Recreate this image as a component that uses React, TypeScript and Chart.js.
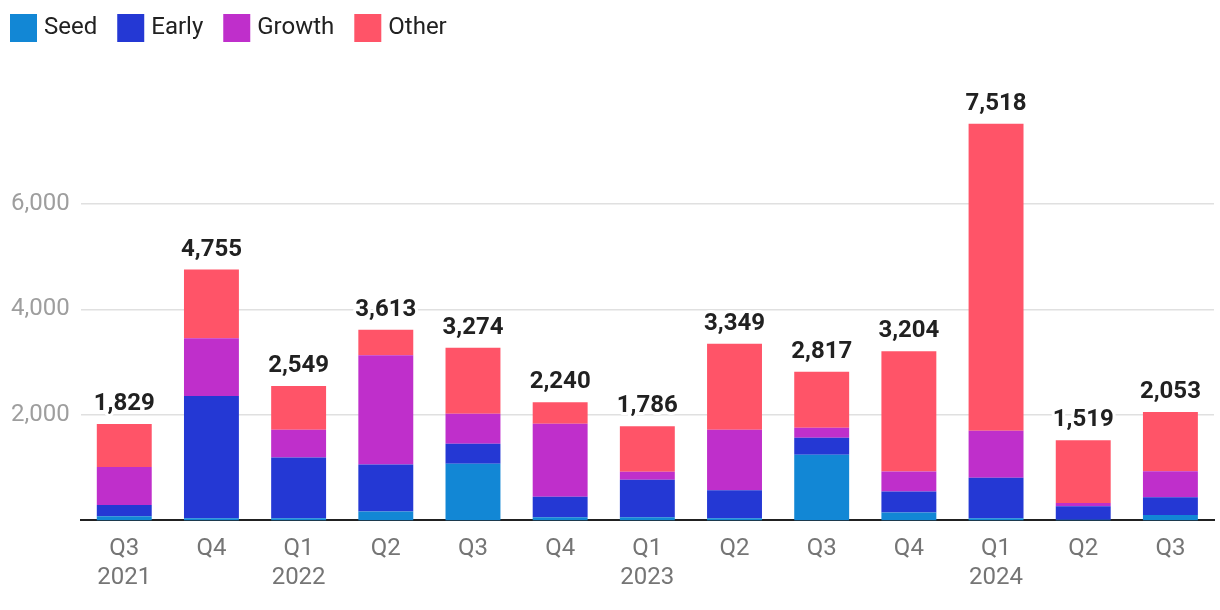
import React, { useEffect, useRef } from "react";
import { Chart, registerables } from "chart.js";

Chart.register(...registerables);

const categories: string[][] = [
  ["Q3", "2021"], ["Q4"], ["Q1", "2022"], ["Q2"], ["Q3"], ["Q4"],
  ["Q1", "2023"], ["Q2"], ["Q3"], ["Q4"], ["Q1", "2024"], ["Q2"], ["Q3"],
];
const seed = [80, 40, 40, 170, 1076, 60, 60, 40, 1245, 150, 40, 10, 100];
const early = [210, 2320, 1150, 890, 377, 390, 710, 530, 320, 400, 770, 260, 340];
const growth = [720, 1090, 530, 2070, 566, 1380, 150, 1150, 190, 375, 890, 60, 490];
const other = [819, 1305, 829, 483, 1255, 410, 866, 1629, 1062, 2279, 5818, 1189, 1123];
const yTicks = [2000, 4000, 6000];

const FONT = "Roboto, 'Noto Sans', sans-serif";

const totalsPlugin = {
  id: "totals",
  afterDatasetsDraw(chart: any) {
    const ctx = chart.ctx;
    const yScale = chart.scales.y;
    const lastMeta = chart.getDatasetMeta(chart.data.datasets.length - 1);
    ctx.save();
    ctx.font = `bold 24px ${FONT}`;
    ctx.textAlign = "center";
    ctx.textBaseline = "alphabetic";
    ctx.lineJoin = "round";
    for (let i = 0; i < seed.length; i++) {
      const total = seed[i] + early[i] + growth[i] + other[i];
      const x = lastMeta.data[i].x;
      const y = yScale.getPixelForValue(total) - 14;
      const txt = total.toLocaleString("en-US");
      ctx.strokeStyle = "#ffffff";
      ctx.lineWidth = 6;
      ctx.strokeText(txt, x, y);
      ctx.fillStyle = "#212121";
      ctx.fillText(txt, x, y);
    }
    ctx.restore();
  },
};

const legendPlugin = {
  id: "customLegend",
  afterDraw(chart: any) {
    const ctx = chart.ctx;
    ctx.save();
    ctx.font = `24px ${FONT}`;
    ctx.textBaseline = "middle";
    ctx.textAlign = "left";
    let x = 10;
    const yTop = 14;
    const box = 27;
    const boxH = 28;
    chart.data.datasets.forEach((ds: any) => {
      ctx.fillStyle = ds.backgroundColor;
      ctx.fillRect(x, yTop, box, boxH);
      ctx.fillStyle = "#212121";
      const tx = x + box + 7;
      ctx.fillText(ds.label, tx, yTop + boxH / 2);
      x = tx + ctx.measureText(ds.label).width + 20;
    });
    ctx.restore();
  },
};

export default function App() {
  const ref = useRef<HTMLCanvasElement>(null);
  useEffect(() => {
    document.body.style.margin = "0";
    const chart = new Chart(ref.current!, {
      type: "bar",
      data: {
        labels: categories,
        datasets: [
          { label: "Seed", data: seed, backgroundColor: "#1287d5" },
          { label: "Early", data: early, backgroundColor: "#2438d4" },
          { label: "Growth", data: growth, backgroundColor: "#bf2fcb" },
          { label: "Other", data: other, backgroundColor: "#ff5468" },
        ],
      },
      options: {
        responsive: false,
        animation: false,
        layout: { padding: { left: 0, right: 6, top: 60, bottom: 4 } },
        datasets: { bar: { barPercentage: 0.63, categoryPercentage: 1 } },
        plugins: {
          legend: { display: false },
          tooltip: { enabled: false },
        },
        scales: {
          x: {
            stacked: true,
            grid: { display: false, drawTicks: false },
            border: { display: true, color: "#212121", width: 2 },
            ticks: { color: "#757575", font: { family: FONT, size: 24 }, padding: 14, maxRotation: 0 },
          },
          y: {
            stacked: true,
            min: 0,
            max: 8726,
            border: { display: false },
            grid: { color: "#e0e0e0", lineWidth: 1.5, drawTicks: false },
            afterBuildTicks: (axis: any) => {
              axis.ticks = yTicks.map((v) => ({ value: v }));
            },
            ticks: {
              color: "#9e9e9e",
              font: { family: FONT, size: 24 },
              padding: 11,
              callback: (v: any) => Number(v).toLocaleString("en-US"),
            },
          },
        },
      },
      plugins: [totalsPlugin, legendPlugin],
    });
    return () => chart.destroy();
  }, []);
  return <canvas ref={ref} width={1220} height={610} />;
}
